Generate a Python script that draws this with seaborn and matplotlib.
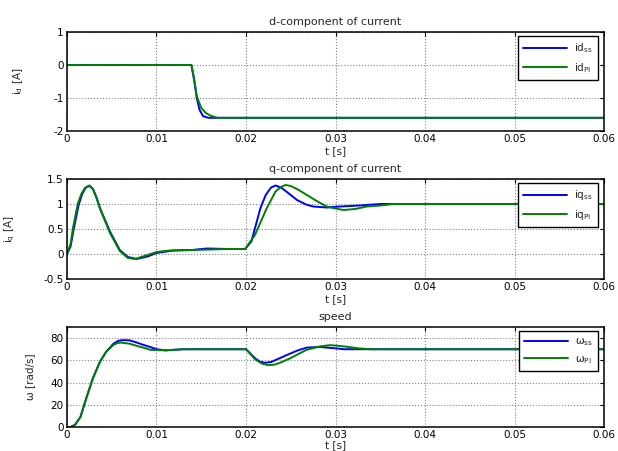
import numpy as np
import pandas as pd
import seaborn as sns
import matplotlib
matplotlib.use('Agg')
import matplotlib.pyplot as plt

# d-component of current
t_id_ss = [0, 0.0139, 0.0142, 0.0145, 0.0148, 0.0152, 0.0158, 0.06]
id_ss = [0, 0, -0.45, -1.0, -1.35, -1.55, -1.6, -1.6]
t_id_pi = [0, 0.0139, 0.0142, 0.0145, 0.015, 0.0155, 0.016, 0.0168, 0.06]
id_pi = [0, 0, -0.4, -0.95, -1.3, -1.45, -1.53, -1.6, -1.6]

# q-component of current
t_iq_ss = [0, 0.0004, 0.0007, 0.0013, 0.0017, 0.0021, 0.0025, 0.0029, 0.0033, 0.0037,
           0.0048, 0.0059, 0.0068, 0.0078, 0.009, 0.01, 0.0119, 0.014, 0.0156, 0.018,
           0.0199, 0.0206, 0.0216, 0.0222, 0.0228, 0.0233, 0.0239, 0.0245, 0.0257, 0.0267,
           0.0275, 0.029, 0.0305, 0.0327, 0.035, 0.06]
iq_ss = [0, 0.15, 0.45, 0.98, 1.2, 1.33, 1.37, 1.3, 1.13, 0.91,
         0.45, 0.08, -0.06, -0.1, -0.05, 0.02, 0.07, 0.08, 0.11, 0.1,
         0.1, 0.25, 0.91, 1.18, 1.33, 1.37, 1.33, 1.25, 1.08, 0.99,
         0.95, 0.93, 0.95, 0.97, 1.0, 1.0]
t_iq_pi = [0, 0.0004, 0.0007, 0.0012, 0.0016, 0.002, 0.0025, 0.0029, 0.0033, 0.0037,
           0.0048, 0.0059, 0.0068, 0.0076, 0.009, 0.01, 0.0115, 0.014, 0.018, 0.0199,
           0.021, 0.0223, 0.0233, 0.0239, 0.0244, 0.025, 0.0258, 0.0268, 0.0279, 0.029,
           0.0297, 0.0309, 0.0322, 0.0335, 0.035, 0.0365, 0.06]
iq_pi = [0, 0.2, 0.55, 1.0, 1.2, 1.32, 1.36, 1.3, 1.12, 0.9,
         0.42, 0.06, -0.08, -0.1, -0.02, 0.04, 0.07, 0.08, 0.1, 0.1,
         0.38, 0.91, 1.25, 1.34, 1.38, 1.36, 1.29, 1.18, 1.06, 0.95,
         0.92, 0.88, 0.9, 0.95, 0.97, 1.0, 1.0]

# speed
t_w_ss = [0, 0.0004, 0.0009, 0.0015, 0.0022, 0.0029, 0.0037, 0.0044, 0.0052, 0.0057,
          0.0062, 0.007, 0.0078, 0.0085, 0.0093, 0.01, 0.011, 0.013, 0.02, 0.021,
          0.0215, 0.0221, 0.0228, 0.0235, 0.0249, 0.0258, 0.0268, 0.0283, 0.0297, 0.031, 0.06]
w_ss = [0, 0, 2, 9, 27, 44, 59, 68, 75, 77.5,
        78.2, 78, 76, 74, 72, 70, 69, 70, 70, 62,
        59, 57.8, 58.5, 61, 66, 69, 71.5, 72, 71, 70, 70]
t_w_pi = [0, 0.0004, 0.0009, 0.0015, 0.0022, 0.0029, 0.0037, 0.0044, 0.0052, 0.0056,
          0.006, 0.007, 0.0078, 0.0085, 0.0093, 0.011, 0.013, 0.02, 0.021, 0.0218,
          0.0225, 0.0231, 0.0237, 0.0249, 0.0258, 0.0268, 0.0283, 0.0294, 0.031, 0.0327,
          0.034, 0.06]
w_pi = [0, 0, 2, 9, 27, 44, 59, 68, 74, 75.5,
        76, 75, 73, 71.5, 69.5, 69, 70, 70, 61, 57,
        55.7, 56, 57.5, 61.7, 65.5, 69.6, 72.6, 73.7, 72.5, 70.7,
        70, 70]

sns.set_style('white')
plt.rcParams['font.family'] = ['DejaVu Sans']
plt.rcParams['mathtext.default'] = 'regular'
plt.rcParams['font.size'] = 7.5

blue = '#0000ff'
green = '#008000'
fs = 7.5

fig = plt.figure(figsize=(6.18, 4.51), dpi=100)
ax1 = fig.add_axes([0.1084, 0.7095, 0.869, 0.2195])
ax2 = fig.add_axes([0.1084, 0.3814, 0.869, 0.2217])
ax3 = fig.add_axes([0.1084, 0.0532, 0.869, 0.2217])

panels = [
    (ax1, t_id_ss, id_ss, t_id_pi, id_pi, 'd-component of current', 'i$_d$ [A]',
     (-2, 1), [-2, -1, 0, 1], ['-2', '-1', '0', '1'],
     r'id$_{\mathrm{ss}}$', r'id$_{\mathrm{PI}}$', -0.078, 1),
    (ax2, t_iq_ss, iq_ss, t_iq_pi, iq_pi, 'q-component of current', 'i$_q$ [A]',
     (-0.5, 1.5), [-0.5, 0, 0.5, 1, 1.5], ['-0.5', '0', '0.5', '1', '1.5'],
     r'iq$_{\mathrm{ss}}$', r'iq$_{\mathrm{PI}}$', -0.093, 1),
    (ax3, t_w_ss, w_ss, t_w_pi, w_pi, 'speed', 'ω [rad/s]',
     (0, 90), [0, 20, 40, 60, 80], ['0', '20', '40', '60', '80'],
     r'ω$_{\mathrm{ss}}$', r'ω$_{\mathrm{PI}}$', -0.06, -0.5),
]

xticks = [0, 0.01, 0.02, 0.03, 0.04, 0.05, 0.06]
xlabels = ['0', '0.01', '0.02', '0.03', '0.04', '0.05', '0.06']

for ax, tss, yss, tpi, ypi, title, ylab, ylim, yt, ytl, lss, lpi, ylx, lpad in panels:
    sns.lineplot(x=tss, y=yss, ax=ax, color=blue, lw=1.4, label=lss)
    sns.lineplot(x=tpi, y=ypi, ax=ax, color=green, lw=1.4, label=lpi)
    ax.set_xlim(0, 0.06)
    ax.set_ylim(*ylim)
    ax.set_xticks(xticks)
    ax.set_xticklabels(xlabels)
    ax.set_yticks(yt)
    ax.set_yticklabels(ytl)
    ax.grid(True, color='#808080', ls=':', lw=0.8)
    ax.tick_params(direction='in', top=True, right=True, length=3, width=0.8,
                   labelsize=fs, pad=2.5, colors='black')
    for s in ax.spines.values():
        s.set_visible(True)
        s.set_color('black')
        s.set_linewidth(1.1)
    ax.set_title(title, fontsize=8, pad=5)
    ax.set_xlabel('t [s]', fontsize=fs, labelpad=lpad)
    ax.set_ylabel(ylab, fontsize=fs)
    ax.yaxis.set_label_coords(ylx, 0.5)
    leg = ax.legend(loc='upper right', bbox_to_anchor=(1 - 6 / 537, 1 - 4 / 99),
                    borderaxespad=0, fontsize=fs, fancybox=False, framealpha=1,
                    edgecolor='black', borderpad=0.5, labelspacing=0.55,
                    handlelength=4.2, handletextpad=0.7)
    leg.get_frame().set_linewidth(1.0)

fig.savefig('out.png', dpi=100)
